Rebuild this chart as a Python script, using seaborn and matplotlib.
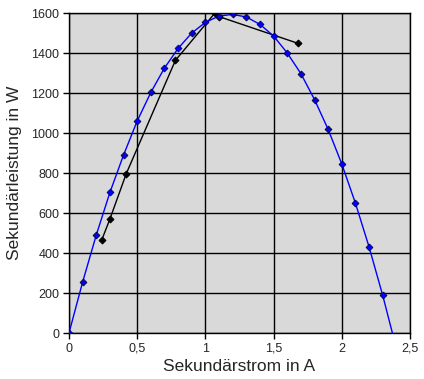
import matplotlib
matplotlib.use("Agg")
import matplotlib.pyplot as plt
import seaborn as sns
import pandas as pd
from matplotlib.ticker import FuncFormatter

# Data
blue_x = [0.0, 0.1, 0.2, 0.3, 0.4, 0.5, 0.6, 0.7, 0.8, 0.9, 1.0, 1.1, 1.2,
          1.3, 1.4, 1.5, 1.6, 1.7, 1.8, 1.9, 2.0, 2.1, 2.2, 2.3, 2.4]
blue_y = [0, 255, 490, 703, 890, 1060, 1203, 1325, 1423, 1500, 1553, 1585, 1593,
          1580, 1543, 1485, 1400, 1297, 1167, 1018, 845, 649, 430, 188, -77]
black_x = [0.24, 0.30, 0.42, 0.78, 1.07, 1.10, 1.68]
black_y = [465, 570, 797, 1363, 1600, 1582, 1448]

x_ticks = [0, 0.5, 1, 1.5, 2, 2.5]
y_ticks = [0, 200, 400, 600, 800, 1000, 1200, 1400, 1600]
x_label = "Sekundärstrom in A"
y_label = "Sekundärleistung in W"

sns.set_style("white")
plt.rcParams['font.family'] = ['Liberation Sans', 'DejaVu Sans']

fig = plt.figure(figsize=(4.24, 3.79), dpi=100)
ax = fig.add_axes([69/424, 1 - 333/379, (410-69)/424, (333-13)/379])
ax.set_facecolor("#d9d9d9")

df_black = pd.DataFrame({"x": black_x, "y": black_y})
df_blue = pd.DataFrame({"x": blue_x, "y": blue_y})

sns.lineplot(data=df_black, x="x", y="y", ax=ax, color="black", lw=1,
             marker="D", markersize=3.5, markerfacecolor="black",
             markeredgecolor="black", sort=False, zorder=3)
sns.lineplot(data=df_blue, x="x", y="y", ax=ax, color="#0000ff", lw=1,
             marker="D", markersize=3.5, markerfacecolor="#0000ff",
             markeredgecolor="#000040", markeredgewidth=0.6, sort=False, zorder=4)

ax.set_xlim(0, 2.5)
ax.set_ylim(0, 1600)
ax.set_xticks(x_ticks)
ax.set_yticks(y_ticks)
ax.xaxis.set_major_formatter(FuncFormatter(lambda v, p: ("%g" % v).replace(".", ",")))
ax.yaxis.set_major_formatter(FuncFormatter(lambda v, p: "%d" % v))
ax.grid(True, color="black", lw=1)
ax.set_axisbelow(True)
for s in ax.spines.values():
    s.set_color("black")
    s.set_linewidth(1)
ax.tick_params(axis="both", direction="out", length=4, width=1, color="black",
               labelsize=9, pad=3, bottom=True, left=True)
ax.set_xlabel(x_label, fontsize=12.5, labelpad=3)
ax.set_ylabel(y_label, fontsize=12.5, labelpad=7)

fig.savefig("out.png", dpi=100, facecolor="white")
